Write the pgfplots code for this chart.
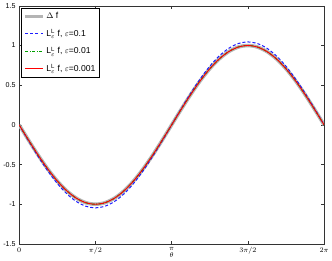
\documentclass[border=0pt]{standalone}
\usepackage{pgfplots}
\pgfplotsset{compat=1.18}
\usepackage{pgfplotstable}
\usepackage{fontspec}
\setmainfont{Liberation Sans}
\pgfplotstableread{
x d e1 e2 e3
0.0000 0.0000 0.0000 0.0000 0.0000
0.1963 -0.1951 -0.2039 -0.1953 -0.1951
0.3927 -0.3827 -0.3999 -0.3830 -0.3827
0.5890 -0.5556 -0.5806 -0.5560 -0.5556
0.7854 -0.7071 -0.7389 -0.7076 -0.7071
0.9817 -0.8315 -0.8689 -0.8321 -0.8315
1.1781 -0.9239 -0.9655 -0.9246 -0.9239
1.3744 -0.9808 -1.0249 -0.9815 -0.9808
1.5708 -1.0000 -1.0450 -1.0007 -1.0000
1.7671 -0.9808 -1.0249 -0.9815 -0.9808
1.9635 -0.9239 -0.9655 -0.9246 -0.9239
2.1598 -0.8315 -0.8689 -0.8321 -0.8315
2.3562 -0.7071 -0.7389 -0.7076 -0.7071
2.5525 -0.5556 -0.5806 -0.5560 -0.5556
2.7489 -0.3827 -0.3999 -0.3830 -0.3827
2.9452 -0.1951 -0.2039 -0.1953 -0.1951
3.1416 0.0000 0.0000 0.0000 0.0000
3.3379 0.1951 0.2039 0.1953 0.1951
3.5343 0.3827 0.3999 0.3830 0.3827
3.7306 0.5556 0.5806 0.5560 0.5556
3.9270 0.7071 0.7389 0.7076 0.7071
4.1233 0.8315 0.8689 0.8321 0.8315
4.3197 0.9239 0.9655 0.9246 0.9239
4.5160 0.9808 1.0249 0.9815 0.9808
4.7124 1.0000 1.0450 1.0007 1.0000
4.9087 0.9808 1.0249 0.9815 0.9808
5.1051 0.9239 0.9655 0.9246 0.9239
5.3014 0.8315 0.8689 0.8321 0.8315
5.4978 0.7071 0.7389 0.7076 0.7071
5.6941 0.5556 0.5806 0.5560 0.5556
5.8905 0.3827 0.3999 0.3830 0.3827
6.0868 0.1951 0.2039 0.1953 0.1951
6.2832 0.0000 0.0000 0.0000 0.0000
}\data
\definecolor{lgray}{RGB}{180,180,180}
\definecolor{mblue}{RGB}{30,30,255}
\definecolor{mgreen}{RGB}{0,160,0}
\begin{document}
\begin{tikzpicture}
\begin{axis}[
  width=301pt, height=235pt, scale only axis,
  xmin=0, xmax=6.2832, ymin=-1.5, ymax=1.5,
  xtick={0,1.5708,3.1416,4.7124,6.2832},
  xticklabels={$0$,$\pi/2$,$\pi$,$3\pi/2$,$2\pi$},
  ytick={-1.5,-1,-0.5,0,0.5,1,1.5},
  tick align=inside, tick pos=both,
  major tick length=3pt,
  tick label style={font=\fontsize{7}{8}\selectfont},
  /pgf/number format/assume math mode=true,
  yticklabel style={/pgf/number format/fixed},
  xlabel={$\theta$}, xlabel style={font=\fontsize{7.5}{8}\selectfont, yshift=9pt},
  axis line style={black!80, line width=0.5pt},
  every tick/.style={black!80},
  legend style={at={(0.007,0.99)}, anchor=north west, font=\fontsize{8.5}{9}\selectfont,
    inner sep=2pt, row sep=5pt},
  legend cell align=left,
  legend image code/.code={\draw[#1] (0pt,0pt) -- (0.6cm,0pt);},
]
\addplot[draw=lgray, line width=3.5pt, smooth] table[x=x,y=d] {\data};
\addlegendentry{$\Delta$ f}
\addplot[draw=mblue, dash pattern=on 3pt off 2pt, line width=1pt, smooth] table[x=x,y=e1] {\data};
\addlegendentry{L$^{\mathrm{L}}_{\varepsilon}$ f, $\varepsilon$=0.1}
\addplot[draw=mgreen, dash pattern=on 3pt off 1.5pt on 0.8pt off 1.5pt, line width=1pt, smooth] table[x=x,y=e2] {\data};
\addlegendentry{L$^{\mathrm{L}}_{\varepsilon}$ f, $\varepsilon$=0.01}
\addplot[draw=red, line width=0.9pt, smooth] table[x=x,y=e3] {\data};
\addlegendentry{L$^{\mathrm{L}}_{\varepsilon}$ f, $\varepsilon$=0.001}
\end{axis}
\end{tikzpicture}
\end{document}
